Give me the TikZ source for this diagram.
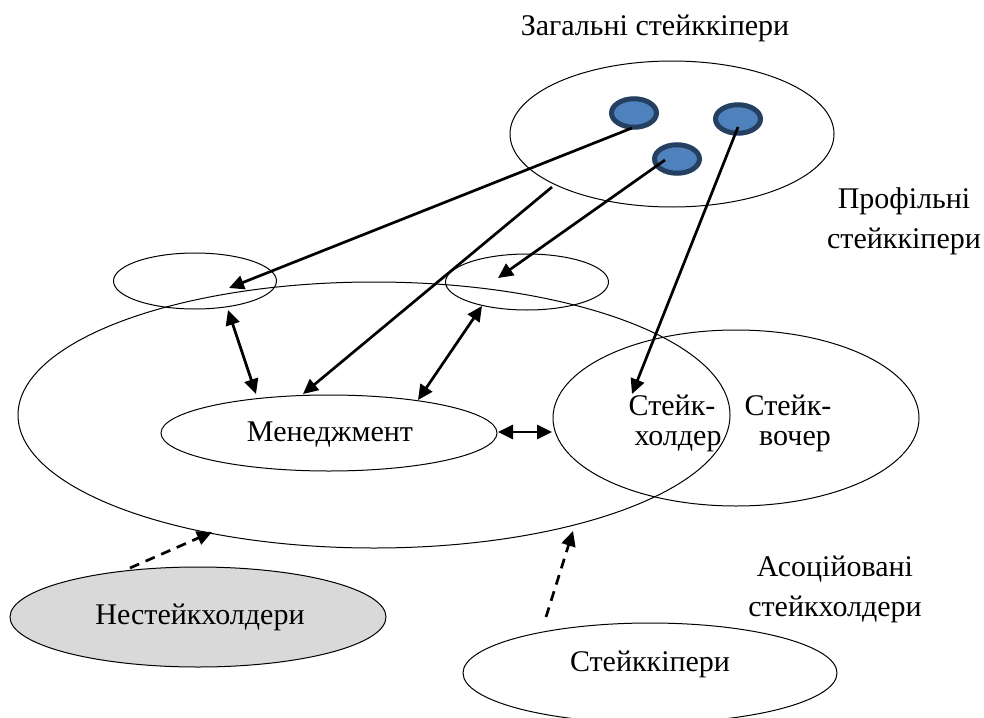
\documentclass[tikz,border=0pt]{standalone}
\usepackage{fontspec}
\setmainfont{Liberation Serif}
\usetikzlibrary{shapes.geometric,arrows.meta}
\definecolor{dotfill}{HTML}{4F81BD}
\definecolor{dotline}{HTML}{243F60}
\definecolor{greyfill}{HTML}{D9D9D9}
\begin{document}
\begin{tikzpicture}[x=0.5pt,y=-0.5pt,
  font=\fontsize{15}{18}\selectfont,
  ell/.style={ellipse, draw, line width=0.5pt, inner sep=0pt},
  bluedot/.style={ellipse, draw=dotline, fill=dotfill, line width=2.5pt,
    minimum width=22.5pt, minimum height=14.25pt, inner sep=0pt},
  tip/.tip={Triangle[length=7.5pt,width=7pt]},
  arr/.style={line width=1.35pt, -tip},
  darr/.style={line width=1.35pt, tip-tip},
  dasharr/.style={line width=1.35pt, dash pattern=on 5pt off 3.5pt, -tip},
  lbl/.style={inner sep=0pt, align=center}]
\useasboundingbox (0,0) rectangle (984,717);

% outer groups
\node[ell, minimum width=356pt, minimum height=133pt] (org) at (374,415) {};
\node[ell, minimum width=162pt, minimum height=73pt] (general) at (672,134) {};
\node[ell, minimum width=183pt, minimum height=88pt] (stake) at (736,418) {};

% inner ellipses
\node[ell, minimum width=81.5pt, minimum height=28pt] (left) at (195,281) {};
\node[ell, minimum width=81.5pt, minimum height=28pt] (mid) at (527,282) {};
\node[ell, minimum width=168pt, minimum height=38pt] (mgmt) at (329,433) {};
\node[lbl] at (330,435) {Менеджмент};

% lower ellipses
\node[ell, fill=greyfill, minimum width=188pt, minimum height=50pt] (non) at (198,617) {};
\node[lbl] at (200,617) {Нестейкхолдери};
\node[ell, minimum width=187pt, minimum height=50pt] (keep) at (650,673) {};
\node[lbl] at (650,664) {Стейккіпери};

% blue dots
\node[bluedot] (d1) at (634,113) {};
\node[bluedot] (d2) at (677,159) {};
\node[bluedot] (d3) at (738,119) {};

% captions
\node[lbl] (capgen) at (655,28) {Загальні стейккіпери};
\node[lbl] (capprof) at (904,221) {Профільні\\[2pt]стейккіпери};
\node[lbl] (capassoc) at (835,589) {Асоційовані\\[2pt]стейкхолдери};
\node[lbl] (sh1) at (672,405) {Стейк-};
\node[lbl] (sh2) at (678,442) {холдер};
\node[lbl] (sw1) at (788,405) {Стейк-};
\node[lbl] (sw2) at (795,442) {вочер};

% connector end points
\coordinate (a1s) at (632,128);
\coordinate (a1e) at (229,288);
\coordinate (a2s) at (552,187);
\coordinate (a2e) at (303,394);
\coordinate (a3s) at (665,160);
\coordinate (a3e) at (498,278);
\coordinate (a4s) at (738,127);
\coordinate (a4e) at (632,394);
\coordinate (b1s) at (228,310);
\coordinate (b1e) at (256,394);
\coordinate (b2s) at (482,306);
\coordinate (b2e) at (418,400);
\coordinate (b3s) at (498,432);
\coordinate (b3e) at (552,432);
\coordinate (c1s) at (130,568);
\coordinate (c1e) at (212,532);
\coordinate (c2s) at (546,617);
\coordinate (c2e) at (573,531);

\draw[arr] (a1s) -- (a1e);
\draw[arr] (a2s) -- (a2e);
\draw[arr] (a3s) -- (a3e);
\draw[arr] (a4s) -- (a4e);
\draw[darr] (b1s) -- (b1e);
\draw[darr] (b2s) -- (b2e);
\draw[darr] (b3s) -- (b3e);
\draw[dasharr] (c1s) -- (c1e);
\draw[dasharr] (c2s) -- (c2e);
\end{tikzpicture}
\end{document}
